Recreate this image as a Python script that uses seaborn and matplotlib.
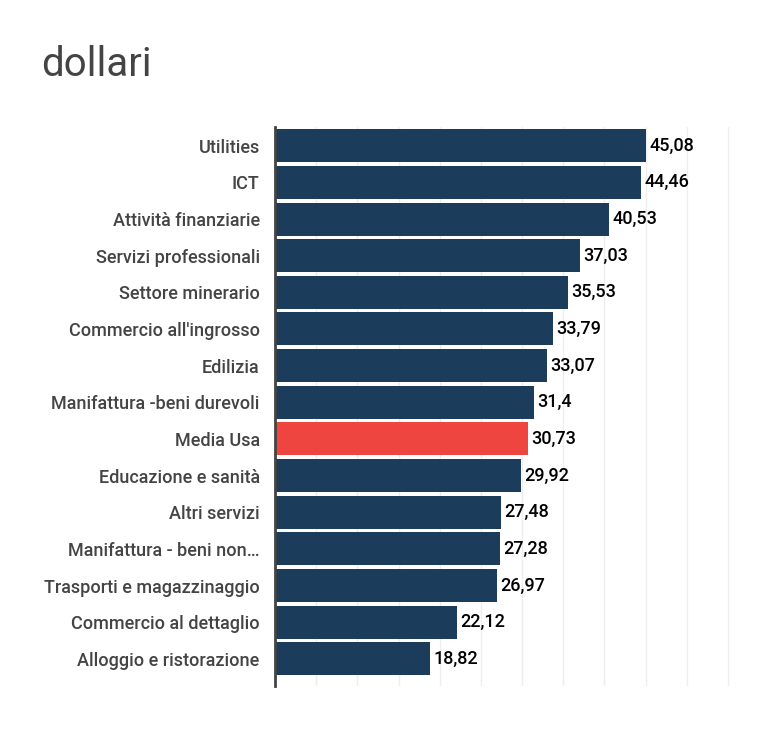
import matplotlib
matplotlib.use("Agg")
import matplotlib.pyplot as plt
import seaborn as sns
import pandas as pd

# -------------------
# DATA
# -------------------
categories = [
    "Utilities", "ICT", "Attività finanziarie", "Servizi professionali",
    "Settore minerario", "Commercio all'ingrosso", "Edilizia",
    "Manifattura -beni durevoli", "Media Usa", "Educazione e sanità",
    "Altri servizi", "Manifattura - beni non…", "Trasporti e magazzinaggio",
    "Commercio al dettaglio", "Alloggio e ristorazione",
]
values = [45.08, 44.46, 40.53, 37.03, 35.53, 33.79, 33.07, 31.4,
          30.73, 29.92, 27.48, 27.28, 26.97, 22.12, 18.82]
highlight = "Media Usa"

NAVY = "#1b3d5b"
RED = "#ef4540"

df = pd.DataFrame({"cat": categories, "val": values})
df["grp"] = ["hl" if c == highlight else "base" for c in categories]

sns.set_style("white")
plt.rcParams["font.family"] = ["Roboto", "DejaVu Sans"]

fig = plt.figure(figsize=(7.7, 7.3), dpi=100)
ax = fig.add_axes([0.3571, 0.0603, 0.5990, 0.7657])

sns.barplot(data=df, y="cat", x="val", hue="grp", orient="h",
            palette={"base": NAVY, "hl": RED}, dodge=False, legend=False,
            width=0.9, ax=ax, saturation=1, edgecolor="none", linewidth=0)

ax.set_xlim(0, 56)
ax.set_ylim(14.74, -0.51)
ax.set_xticks(range(0, 56, 5))
ax.set_xticklabels([])
ax.tick_params(axis="x", length=0)
ax.tick_params(axis="y", length=0, labelsize=13, labelcolor="#444444", pad=11)
for lab in ax.get_yticklabels():
    lab.set_fontweight("medium")
ax.grid(axis="x", color="#eeeeee", linewidth=1)
ax.set_axisbelow(True)
ax.set_xlabel("")
ax.set_ylabel("")

for s in ["top", "right", "bottom"]:
    ax.spines[s].set_visible(False)
ax.spines["left"].set_color("#444444")
ax.spines["left"].set_linewidth(2)

for i, v in enumerate(values):
    txt = f"{v:g}".replace(".", ",")
    ax.text(v + 0.4, i, txt, va="center", ha="left", fontsize=13,
            fontweight="medium", color="black")

fig.text(0.054, 0.912, "dollari", fontsize=29, color="#444444", ha="left", va="center")

fig.savefig("out.png", dpi=100)
